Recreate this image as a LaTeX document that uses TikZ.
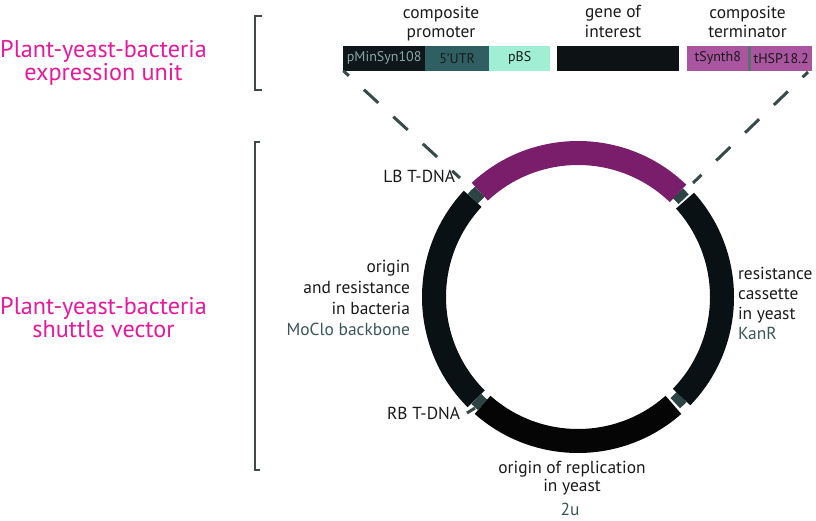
\documentclass[tikz,border=0pt]{standalone}
\usepackage{fontspec}
\setmainfont{PT Sans}
\definecolor{cText}{HTML}{1A1A1A}
\definecolor{cSec}{HTML}{3A5656}
\definecolor{cPink}{HTML}{E6199B}
\definecolor{cPMin}{HTML}{0F171A}
\definecolor{cPMinT}{HTML}{8AA6A6}
\definecolor{cUTR}{HTML}{2F5F62}
\definecolor{cPBS}{HTML}{A0EFD4}
\definecolor{cGene}{HTML}{0D1315}
\definecolor{cTerm}{HTML}{A9559F}
\definecolor{cSep}{HTML}{5C6E6E}
\definecolor{cBr}{HTML}{3D4A4A}
\definecolor{cDash}{HTML}{374A4A}
\definecolor{cPurple}{HTML}{7A1E6C}
\definecolor{cLink}{HTML}{2E4444}
\definecolor{cArc}{HTML}{0A1114}
\definecolor{cArcB}{HTML}{050505}
\begin{document}
\begin{tikzpicture}[x=1pt,y=-1pt,
  lbl/.style={font=\fontsize{17.4}{21}\selectfont, text=cText, inner sep=0pt, outer sep=0pt},
  side/.style={font=\fontsize{24.2}{23}\selectfont, text=cPink, align=center, inner sep=0pt, outer sep=0pt},
  barbox/.style={minimum height=24.7pt, inner sep=0pt, outer sep=0pt, font=\fontsize{14}{14}\selectfont, anchor=west, text=cText},
  ring/.style={line width=24pt},
  linkpiece/.style={line width=14pt, draw=cLink},
  bracket/.style={draw=cBr, line width=2pt},
  dashlink/.style={draw=cDash, line width=3pt, dash pattern=on 19.5pt off 20.5pt, dash phase=12pt}]
\useasboundingbox (0,0) rectangle (816,520);

% left titles (base anchor = last line)
\node[side, anchor=base] (t1) at (103.5,80.3) {Plant-yeast-bacteria\\expression unit};
\node[side, anchor=base] (t2) at (103.5,337.5) {Plant-yeast-bacteria\\shuttle vector};

% brackets
\draw[bracket] (262,16) -- (254.5,16) -- (254.5,90) -- (262,90);
\draw[bracket] (260,142) -- (254.5,142) -- (254.5,470) -- (260,470);

% expression unit bar
\node[barbox, fill=cPMin, text=cPMinT, minimum width=81.7pt] (pmin) at (343.3,58.35) {pMinSyn108};
\node[barbox, fill=cUTR, minimum width=64.3pt] (utr) at (425,58.35) {5’UTR};
\node[barbox, fill=cPBS, minimum width=60.7pt] (pbs) at (489.3,58.35) {pBS};
\node[barbox, fill=cGene, minimum width=122.6pt] (goi) at (556.7,58.35) {};
\node[barbox, fill=cTerm, minimum width=61pt] (tsyn) at (687.3,58.35) {tSynth8};
\node[barbox, fill=cSep, minimum width=2.4pt] (sep) at (748.3,58.35) {};
\node[barbox, fill=cTerm, minimum width=61pt] (thsp) at (750.7,58.35) {tHSP18.2};

\node[lbl, anchor=base, align=center, font=\fontsize{17.4}{19.5}\selectfont] (prom) at (441,37.8) {composite\\promoter};
\node[lbl, anchor=base, align=center, font=\fontsize{17.4}{19.5}\selectfont] (gene) at (613,37.3) {gene of\\interest};
\node[lbl, anchor=base, align=center, font=\fontsize{17.4}{19.5}\selectfont] (term) at (747.5,37.8) {composite\\terminator};

% vector ring
\coordinate (cc) at (578,297);
\begin{scope}[shift={(cc)}, yscale=-1]
  \draw[ring, draw=cPurple] (133:144) arc[start angle=133, end angle=46, radius=144];
  \draw[linkpiece] (137:144) arc[start angle=137, end angle=133, radius=144];
  \draw[ring, draw=cArc] (225:144) arc[start angle=225, end angle=137, radius=144];
  \draw[linkpiece] (228.5:144) arc[start angle=228.5, end angle=225, radius=144];
  \draw[ring, draw=cArcB] (311.5:144) arc[start angle=311.5, end angle=228.5, radius=144];
  \draw[linkpiece] (316:144) arc[start angle=316, end angle=312.5, radius=144];
  \draw[ring, draw=cArc] (42:144) arc[start angle=42, end angle=-44, radius=144];
  \draw[linkpiece] (46:144) arc[start angle=46, end angle=42.8, radius=144];
\end{scope}

% dashed connectors from the bar to the vector
\coordinate (lbend) at (460,178);
\coordinate (rbstart) at (808,72);
\coordinate (rbend) at (693,183);
\draw[dashlink] (pmin.south west) -- (lbend);
\draw[dashlink] (rbstart) -- (rbend);
\coordinate (rba) at (467,413);
\coordinate (rbb) at (475,408);
\draw[draw=cDash, line width=3pt] (rba) -- (rbb);

% labels around the vector
\node[lbl, anchor=base east] (lb) at (455,182) {LB T-DNA};
\node[lbl, anchor=base east] (rb) at (460,419) {RB T-DNA};
\node[lbl, anchor=base east, align=right] (ori) at (410,335) {origin\\and resistance\\in bacteria\\\textcolor{cSec}{MoClo backbone}};
\node[lbl, anchor=base west, align=left, font=\fontsize{17.4}{20}\selectfont] (kan) at (738,339) {resistance\\cassette\\in yeast\\\textcolor{cSec}{KanR}};
\node[lbl, anchor=base, align=center, font=\fontsize{17.4}{18.5}\selectfont] (ory) at (572,491.5) {origin of replication\\in yeast};
\node[lbl, anchor=base, text=cSec] (twou) at (570,515.5) {2u};
\end{tikzpicture}
\end{document}
